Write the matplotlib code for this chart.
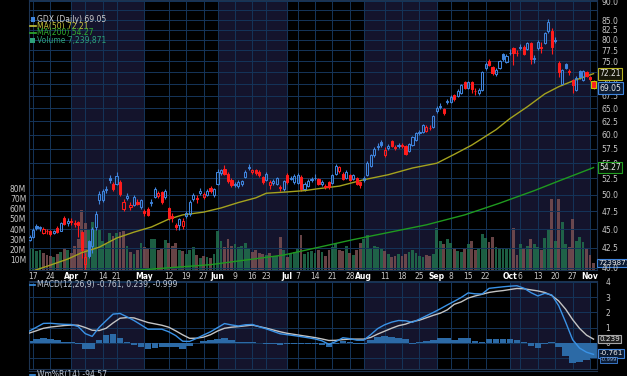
import matplotlib
matplotlib.use("Agg")
import matplotlib.pyplot as plt
import matplotlib.transforms as mtransforms
from matplotlib.patches import Rectangle
from matplotlib.lines import Line2D
from matplotlib.ticker import NullLocator
import numpy as np

# --- Daily OHLC, GDX 14 Mar - 4 Nov ---
opens = [
    43.6, 44.0, 45.5, 45.1, 44.5, 44.8, 44.7, 44.5, 45.2, 44.8, 46.5, 45.9,
    46.2, 45.7, 46.0, 44.6, 40.5, 43.4, 42.8, 45.3, 49.2, 49.2, 50.7, 52.6, 51.6, 51.6, 51.9, 47.8, 49.5, 48.1, 48.5, 48.9, 48.1,
    47.5, 47.9, 48.7, 49.7, 49.8, 50.4, 49.7, 48.0, 46.8, 45.6, 45.6, 45.4, 46.8, 47.1, 49.3, 49.5, 50.3, 49.6, 50.0, 51.0, 49.9,
    51.6, 53.4, 54.0, 53.2, 52.3, 51.5, 51.3, 51.6, 52.7, 54.2, 53.5, 53.8, 53.6, 52.7, 52.3, 51.5, 51.8, 51.6, 51.1, 50.8,
    53.1, 52.4, 51.9, 51.8, 52.8, 50.9, 51.3, 52.2, 52.5, 52.4, 51.7, 51.3, 51.9, 51.8, 53.3, 53.7, 53.3, 52.6, 53.1, 52.4, 52.6, 51.9,
    52.3, 53.1, 54.6, 56.4, 57.7, 58.7, 56.4, 57.6, 58.9, 57.8, 57.9, 58.2, 57.9, 57.1, 58.1, 59.0, 60.3, 60.5, 60.6, 61.3, 61.4,
    64.4, 65.3, 64.8, 66.2, 66.3, 67.7, 67.5, 68.0, 70.3, 69.2, 70.4, 68.6, 68.0, 68.8, 73.4, 75.0, 73.7, 72.1, 73.4, 76.7, 74.8,
    76.8, 78.1, 77.0, 78.0, 78.4, 77.8, 79.2, 75.4, 78.0, 78.4, 79.2, 82.1, 82.1, 79.8, 74.5, 70.0, 74.3, 72.8, 70.8, 68.7, 72.8, 70.8, 72.6,
    71.4, 70.6,
]
highs = [
    44.2, 45.1, 45.7, 45.5, 45.3, 45.0, 44.9, 44.9, 45.4, 46.0, 46.9, 46.6,
    46.5, 46.3, 46.1, 44.8, 41.8, 43.6, 45.3, 47.6, 50.6, 50.8, 51.3, 53.0, 52.0, 53.6, 52.3, 49.3, 50.2, 48.9, 49.9, 49.3, 49.4,
    47.8, 48.1, 49.3, 51.2, 50.6, 50.6, 50.9, 48.2, 47.2, 45.9, 46.6, 46.5, 47.5, 49.2, 50.3, 49.9, 51.0, 50.4, 50.9, 51.3, 51.0,
    54.0, 54.1, 54.7, 53.5, 52.6, 52.0, 52.2, 52.3, 53.8, 54.9, 54.1, 54.0, 53.8, 52.9, 53.6, 52.2, 52.4, 52.8, 51.4, 52.3,
    53.4, 52.9, 53.2, 53.4, 53.0, 52.0, 52.4, 52.8, 53.2, 52.6, 52.3, 51.6, 52.1, 53.3, 54.9, 54.6, 53.5, 53.9, 53.3, 53.3, 52.8, 52.1,
    52.9, 55.3, 56.6, 57.8, 58.4, 59.0, 57.7, 58.3, 59.1, 58.1, 58.5, 58.5, 58.1, 58.5, 59.8, 60.5, 60.9, 61.9, 61.8, 61.7, 63.6,
    65.5, 66.1, 65.0, 66.9, 67.6, 67.9, 68.9, 70.0, 70.6, 70.6, 70.6, 69.2, 69.1, 72.7, 74.8, 75.5, 74.0, 73.4, 75.3, 77.0, 76.6,
    77.8, 78.4, 77.5, 78.9, 78.7, 79.5, 79.4, 76.5, 80.0, 79.6, 81.9, 85.3, 83.0, 80.8, 75.0, 73.3, 74.6, 73.2, 71.1, 71.6, 73.1, 73.0, 72.9,
    71.8, 70.8,
]
lows = [
    43.4, 43.8, 44.9, 44.8, 44.3, 44.4, 44.1, 44.3, 44.5, 44.7, 45.6, 45.4,
    45.6, 45.3, 43.9, 41.2, 39.9, 41.2, 41.9, 44.9, 48.6, 48.9, 50.3, 51.8, 50.6, 51.4, 49.8, 47.5, 49.2, 47.7, 48.3, 48.4, 47.9,
    46.9, 46.8, 48.3, 49.5, 49.5, 48.6, 49.4, 46.3, 46.0, 44.9, 44.9, 45.0, 46.5, 46.9, 49.0, 48.8, 50.0, 49.3, 49.8, 50.2, 49.6,
    51.4, 53.0, 53.0, 51.8, 51.2, 51.2, 51.0, 51.3, 52.5, 53.9, 53.2, 53.1, 52.8, 51.7, 52.1, 50.8, 51.5, 51.4, 50.6, 50.6,
    51.7, 52.2, 51.7, 51.6, 50.5, 50.6, 51.1, 51.9, 52.2, 51.4, 51.3, 50.8, 50.9, 51.6, 53.1, 53.4, 52.2, 52.4, 52.1, 52.2, 51.5, 51.0,
    52.0, 52.9, 54.4, 56.1, 57.2, 57.8, 56.0, 57.3, 57.7, 57.2, 57.6, 57.6, 56.4, 56.9, 57.9, 58.8, 59.9, 60.3, 60.4, 60.8, 61.2,
    64.1, 64.9, 63.7, 65.8, 66.1, 66.5, 67.3, 67.8, 68.9, 69.0, 68.0, 67.6, 67.7, 68.6, 73.1, 73.9, 72.0, 71.8, 73.2, 75.1, 74.5,
    76.4, 74.2, 76.3, 77.6, 76.4, 77.5, 74.3, 74.6, 77.7, 76.9, 78.9, 81.8, 76.7, 79.2, 71.5, 69.7, 73.2, 71.9, 68.0, 68.4, 71.1, 70.6, 71.4,
    70.7, 68.9,
]
closes = [
    44.0, 44.9, 45.1, 45.3, 45.0, 44.7, 44.3, 44.7, 44.6, 45.8, 45.7, 46.1,
    46.0, 45.9, 45.6, 42.2, 41.3, 41.5, 45.0, 47.1, 50.1, 50.5, 50.9, 52.3, 50.9, 52.9, 50.1, 48.9, 49.8, 48.5, 49.6, 48.6, 49.2,
    47.3, 47.0, 48.9, 50.8, 50.2, 48.9, 50.5, 46.6, 46.5, 45.3, 46.4, 46.2, 47.2, 48.9, 49.9, 49.4, 50.6, 50.1, 50.6, 50.5, 50.8,
    53.6, 53.8, 53.3, 52.1, 51.5, 51.7, 52.0, 52.1, 53.6, 54.4, 53.8, 53.4, 53.1, 52.0, 53.3, 51.9, 52.1, 52.5, 51.0, 52.1,
    51.9, 52.6, 52.9, 53.1, 50.8, 51.7, 52.1, 52.4, 52.6, 51.6, 51.9, 51.2, 51.1, 53.1, 54.6, 54.3, 52.4, 53.6, 52.3, 53.0, 51.7, 51.4,
    52.6, 55.0, 56.4, 57.5, 57.9, 58.1, 57.3, 58.0, 57.9, 57.6, 58.1, 58.0, 56.6, 58.3, 59.6, 60.2, 60.5, 61.7, 61.4, 61.2, 63.4,
    65.1, 65.5, 64.1, 66.4, 67.3, 66.8, 68.6, 69.8, 69.2, 70.3, 69.0, 68.5, 68.8, 72.5, 74.4, 74.2, 72.3, 73.1, 75.0, 75.4, 76.3,
    77.0, 76.9, 76.8, 78.3, 76.7, 79.2, 75.5, 75.7, 79.6, 78.1, 81.6, 84.6, 78.4, 80.1, 72.6, 73.0, 73.5, 72.6, 69.8, 71.3, 71.4, 72.7, 71.7,
    71.0, 69.05,
]
# volume, millions of shares
volumes = [
    21, 22, 19, 20, 17, 15, 14, 13, 16, 18, 22, 20,
    17, 24, 30, 59, 46, 39, 47, 40, 40, 28, 25, 36, 33, 36, 37, 38, 24, 18, 16, 20, 26,
    23, 22, 30, 30, 20, 21, 29, 26, 24, 26, 20, 19, 16, 20, 23, 15, 12, 14, 13, 12, 16,
    38, 28, 23, 30, 24, 25, 23, 24, 26, 21, 18, 20, 17, 16, 15, 17, 13, 14, 32, 20,
    13, 17, 18, 22, 34, 16, 18, 19, 17, 20, 18, 14, 20, 23, 25, 20, 19, 24, 17, 15, 20, 26,
    30, 34, 22, 24, 23, 21, 19, 16, 13, 14, 16, 14, 16, 18, 20, 17, 14, 13, 15, 14, 16,
    41, 28, 25, 30, 26, 22, 19, 18, 21, 25, 28, 20, 22, 35, 31, 27, 32, 23, 22, 22, 21,
    21, 41, 15, 25, 21, 24, 30, 25, 23, 20, 31, 39, 70, 28, 70, 47, 25, 23, 50, 28, 32, 27, 22,
    15, 7.24,
]

# moving averages, sampled off the chart (trading-day index, value)
ma50_days = [0, 5, 11, 15, 20, 25, 30, 35, 40, 44, 50, 55, 60, 65, 68, 74, 79, 83, 89, 96,
             103, 110, 117, 122, 127, 134, 138, 143, 148, 152, 156, 162]
ma50_vals = [39.5, 40.2, 41.1, 41.9, 42.6, 43.8, 44.6, 45.3, 46.4, 47.0, 47.4, 48.0, 48.8, 49.5, 50.2,
             50.4, 50.6, 50.9, 51.3, 52.3, 53.1, 54.2, 55.0, 56.5, 58.1, 60.9, 63.0, 65.3, 67.9, 69.4,
             70.6, 72.21]
ma200_days = [30, 52, 73, 93, 114, 125, 135, 145, 152, 162]
ma200_vals = [39.7, 40.4, 41.6, 43.6, 45.6, 47.0, 48.7, 50.6, 52.1, 54.27]

# MACD(12,26,9), every second trading day
macd_days = list(range(0, 163, 2))
macd_vals = [0.77, 1.02, 1.27, 1.28, 1.24, 1.21, 1.20, 1.06, 0.60, 0.42,
             1.01, 1.45, 1.88, 1.92, 1.70, 1.46, 1.18, 0.89, 0.89, 0.89,
             0.72, 0.47, 0.10, 0.09, 0.29, 0.51, 0.72, 0.99, 1.26, 1.17,
             1.10, 1.18, 1.20, 1.05, 0.91, 0.75, 0.59, 0.53, 0.47, 0.40,
             0.33, 0.25, 0.13, -0.10, 0.08, 0.33, 0.27, 0.17, 0.17, 0.53,
             0.93, 1.18, 1.35, 1.46, 1.44, 1.34, 1.55, 1.77, 1.99, 2.23,
             2.48, 2.72, 2.97, 3.27, 3.21, 3.20, 3.57, 3.62, 3.67, 3.71,
             3.74, 3.58, 3.29, 3.07, 3.24, 3.14, 2.43, 1.35, 0.20, -0.35,
             -0.62, -0.761]
signal_vals = [0.64, 0.79, 0.95, 1.03, 1.08, 1.13, 1.16, 1.15, 1.00, 0.82,
               0.80, 0.95, 1.30, 1.61, 1.65, 1.63, 1.48, 1.33, 1.24, 1.15,
               1.02, 0.78, 0.52, 0.29, 0.30, 0.37, 0.53, 0.77, 0.95, 1.02,
               1.06, 1.11, 1.16, 1.06, 0.96, 0.84, 0.72, 0.62, 0.55, 0.48,
               0.41, 0.34, 0.25, 0.15, 0.16, 0.21, 0.24, 0.24, 0.24, 0.35,
               0.57, 0.76, 0.95, 1.12, 1.22, 1.39, 1.48, 1.64, 1.80, 1.94,
               2.16, 2.52, 2.68, 2.93, 3.07, 3.18, 3.30, 3.37, 3.42, 3.49,
               3.56, 3.54, 3.47, 3.40, 3.30, 3.10, 2.74, 2.20, 1.52, 0.94,
               0.50, 0.239]

# date axis
tick_days = [1, 6, 12, 16, 21, 25, 33, 40, 45, 50, 54, 59, 64, 68, 74, 77, 82, 87, 92, 96,
             102, 107, 112, 117, 121, 126, 131, 138, 141, 146, 151, 156, 161]
tick_labels = ["17", "24", "Apr", "7", "14", "21", "May", "12", "19", "27", "Jun", "9", "16", "23",
               "Jul", "7", "14", "21", "28", "Aug", "11", "18", "25", "Sep", "8", "15", "22",
               "Oct", "6", "13", "20", "27", "Nov"]
month_names = ["Apr", "May", "Jun", "Jul", "Aug", "Sep", "Oct", "Nov"]
shaded_months = [(12, 33), (54, 74), (96, 117), (138, 161)]

price_grid = [40 + 2.5 * k for k in range(21)]
price_labels = [p for p in price_grid if p != 87.5]
vol_ticks = [10, 20, 30, 40, 50, 60, 70, 80]
macd_ticks = [-1, 0, 1, 2, 3, 4]

# --- colours ---
BLUE = "#3f84dc"
RED = "#ff1c1c"
GRID = "#15355a"
SHADE = "#14142c"
TXT = "#c8c8c8"

W, H = 627, 376
fig = plt.figure(figsize=(W / 100, H / 100), dpi=100, facecolor="black")


def fx(px):
    return px / W


def fy(py):
    return 1 - py / H


XL = (-0.15, 163.0)
ax = fig.add_axes([fx(29), fy(270), (597 - 29) / W, 270 / H])
axp = ax.twinx()
axm = fig.add_axes([fx(29), fy(369), (597 - 29) / W, (369 - 281) / H])

# --- background, month shading, vertical grid ---
for a in (ax, axm):
    a.set_facecolor("black")
    for s, e in shaded_months:
        a.axvspan(s, e, color=SHADE, zorder=0, lw=0)
    for d in tick_days:
        a.axvline(d, color=GRID, lw=0.7, zorder=0.5)
    a.set_xlim(*XL)
    a.set_xticks([])
    for sp in a.spines.values():
        sp.set_color("#1d3350")
        sp.set_linewidth(0.8)
for sp in axp.spines.values():
    sp.set_visible(False)

# --- volume (left axis) ---
d = np.arange(len(closes))
o = np.array(opens)
h = np.array(highs)
l = np.array(lows)
c = np.array(closes)
prev = np.concatenate([[o[0]], c[:-1]])
up = c >= prev
cols = np.where(up, BLUE, RED)
vol_cols = np.where(up, "#22704e", "#7a5052")
ax.bar(d, volumes, width=0.8, color=vol_cols, alpha=0.85, zorder=2, lw=0)
ax.set_ylim(0, 264.7)
ax.set_yticks(vol_ticks)
ax.set_yticklabels([f"{v}M" for v in vol_ticks])
ax.tick_params(axis="y", length=0, pad=2, labelsize=5.5, labelcolor=TXT)

# --- price candles (right axis, log) ---
axp.set_yscale("log")
axp.set_ylim(39.75, 90.33)
axp.set_xlim(*XL)
axp.set_yticks(price_labels)
axp.set_yticklabels([f"{p:.1f}" for p in price_labels])
axp.yaxis.set_minor_locator(NullLocator())
axp.tick_params(axis="y", which="both", length=0, pad=3, labelsize=5.5, labelcolor=TXT)
for p in price_grid:
    axp.axhline(p, color=GRID, lw=0.7, zorder=0.5)

top = np.maximum(o, c)
bot = np.minimum(o, c)
axp.vlines(d, top, h, colors=cols, lw=0.8, zorder=3)
axp.vlines(d, l, bot, colors=cols, lw=0.8, zorder=3)
faces = [col if cl < op else "none" for col, cl, op in zip(cols, c, o)]
axp.bar(d, top - bot, bottom=bot, width=0.62, facecolor=faces, edgecolor=cols,
        linewidth=0.75, zorder=4)
# latest bar is boxed in yellow
axp.bar(d[-1], top[-1] - bot[-1], bottom=bot[-1], width=1.3, facecolor=RED,
        edgecolor="#c8c400", linewidth=0.8, zorder=5)

axp.plot(ma50_days, ma50_vals, color="#a4a21e", lw=1.0, zorder=3)
axp.plot(ma200_days, ma200_vals, color="#1f9a1f", lw=1.0, zorder=3)

# --- right-hand value tags ---
tr = mtransforms.blended_transform_factory(axp.transAxes, axp.transData)
tags = [(72.21, "72.21", "#b8b422", "#161608"),
        (69.05, "69.05", BLUE, "#0b1b33"),
        (54.27, "54.27", "#22a022", "#061206")]
for val, txt, ec, fc in tags:
    axp.text(1.004, val, txt, transform=tr, fontsize=5.5, color="#e8e8e8", va="center",
             ha="left", clip_on=False, zorder=6,
             bbox=dict(boxstyle="square,pad=0.18", fc=fc, ec=ec, lw=0.8))
trv = mtransforms.blended_transform_factory(ax.transAxes, ax.transData)
ax.text(1.002, 7.24, "7239871", transform=trv, fontsize=5.2, color="#e8e8e8", va="center",
        ha="left", clip_on=False, zorder=6,
        bbox=dict(boxstyle="square,pad=0.15", fc="#0b1b33", ec=BLUE, lw=0.8))

# --- legend, main panel ---
legend = [(19, "GDX (Daily) 69.05", "#d0d0d0"),
          (26, "MA(50) 72.21", "#c8c43a"),
          (33, "MA(200) 54.27", "#2fae2f"),
          (40, "Volume 7,239,871", "#2ea27a")]
for y, txt, col in legend:
    fig.text(fx(37), fy(y), txt, fontsize=5.5, color=col, va="center", ha="left")
fig.add_artist(Rectangle((fx(31), fy(22)), 4 / W, 5 / H, transform=fig.transFigure,
                         fc=BLUE, ec="none"))
fig.add_artist(Line2D([fx(30), fx(36)], [fy(26), fy(26)], color="#c8c43a", lw=1.2))
fig.add_artist(Line2D([fx(30), fx(36)], [fy(33), fy(33)], color="#2fae2f", lw=1.2))
fig.add_artist(Rectangle((fx(30), fy(43)), 5 / W, 5 / H, transform=fig.transFigure,
                         fc="#2ea27a", ec="none"))

# --- date labels ---
trd = mtransforms.blended_transform_factory(ax.transData, fig.transFigure)
for dd, lab in zip(tick_days, tick_labels):
    is_month = lab in month_names
    ax.text(dd, fy(276.5), lab, transform=trd, fontsize=5.5, ha="center", va="center",
            color="white" if is_month else TXT, fontweight="bold" if is_month else "normal",
            clip_on=False)

# --- MACD panel ---
hist = np.subtract(macd_vals, signal_vals)
axm.bar(macd_days, hist, width=1.9, color="#2c6aa6", lw=0, zorder=2)
axm.plot(macd_days, signal_vals, color="#c4c4c4", lw=1.0, zorder=3)
axm.plot(macd_days, macd_vals, color="#3a92e6", lw=1.0, zorder=4)
axm.set_ylim(-1.72, 4.05)
axm.set_yticks(macd_ticks)
axm.set_yticklabels(["" if t < 0 else str(t) for t in macd_ticks])
axm.yaxis.tick_right()
axm.tick_params(axis="y", length=0, pad=6, labelsize=5.5, labelcolor=TXT)
axm.grid(True, axis="y", color=GRID, lw=0.7)
axm.set_axisbelow(True)

trm = mtransforms.blended_transform_factory(axm.transAxes, axm.transData)
axm.text(1.004, 0.239, "0.239", transform=trm, fontsize=5.2, color="#e8e8e8", va="center",
         clip_on=False, bbox=dict(boxstyle="square,pad=0.15", fc="#202020", ec="#a8a8a8", lw=0.8))
axm.text(1.004, -0.70, "-0.761", transform=trm, fontsize=5.2, color="#e8e8e8", va="center",
         clip_on=False, bbox=dict(boxstyle="square,pad=0.15", fc="#0b1b33", ec=BLUE, lw=0.8))
axm.text(1.006, -1.12, "-0.999", transform=trm, fontsize=3.6, color="#8ab4e8", va="center",
         clip_on=False, bbox=dict(boxstyle="square,pad=0.1", fc="#0b1b33", ec=BLUE, lw=0.6))

fig.add_artist(Line2D([fx(30), fx(35)], [fy(285), fy(285)], color="#3a92e6", lw=1.2))
fig.text(fx(37), fy(285), "MACD(12,26,9) -0.761, 0.239, -0.999", fontsize=5.5,
         color="#c0c8d4", va="center", ha="left")

# next (cut-off) panel header
fig.add_artist(Line2D([fx(29), fx(597)], [fy(371), fy(371)], color="#1d3350", lw=0.8))
fig.add_artist(Line2D([fx(30), fx(35)], [fy(375), fy(375)], color="#3a92e6", lw=1.2))
fig.text(fx(37), fy(375), "Wm%R(14) -94.57", fontsize=5.5, color="#c0c8d4",
         va="center", ha="left")

fig.savefig("out.png", dpi=100, facecolor="black")
